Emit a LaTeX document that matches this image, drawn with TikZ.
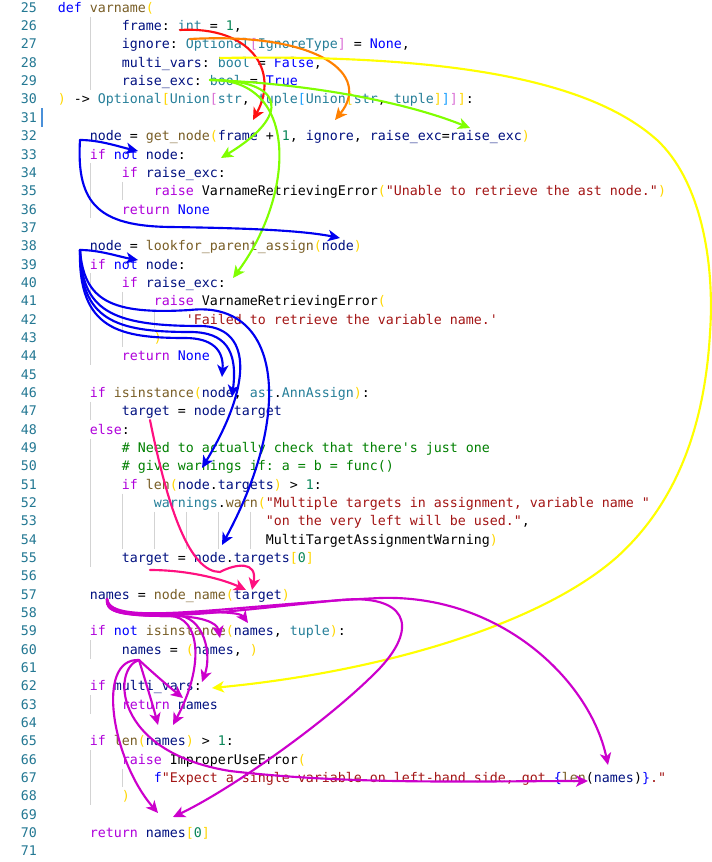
\documentclass[tikz,border=0pt]{standalone}
\usepackage{fontspec}
\setmonofont{DejaVu Sans Mono}
\usetikzlibrary{arrows.meta}
\frenchspacing
\definecolor{ckwc}{HTML}{AF00DB}
\definecolor{cblc}{HTML}{0000FF}
\definecolor{cfnc}{HTML}{795E26}
\definecolor{cvac}{HTML}{001080}
\definecolor{ctyc}{HTML}{267F99}
\definecolor{cnuc}{HTML}{098658}
\definecolor{cstc}{HTML}{A31515}
\definecolor{ccoc}{HTML}{008000}
\definecolor{cbac}{HTML}{FFD700}
\definecolor{cbbc}{HTML}{DA70D6}
\definecolor{cbcc}{HTML}{179FFF}
\definecolor{lnumc}{HTML}{237893}
\definecolor{guidec}{HTML}{D3D3D3}
\definecolor{cursorc}{HTML}{4A90D9}
\definecolor{aRed}{HTML}{FF1010}
\definecolor{aOrange}{HTML}{FF8000}
\definecolor{aYellow}{HTML}{FFFF00}
\definecolor{aGreen}{HTML}{80FF00}
\definecolor{aBlue}{HTML}{0000F0}
\definecolor{aPink}{HTML}{FF1080}
\definecolor{aMag}{HTML}{CC00CC}
\newcommand\ckw[1]{\textcolor{ckwc}{#1}}
\newcommand\cbl[1]{\textcolor{cblc}{#1}}
\newcommand\cfn[1]{\textcolor{cfnc}{#1}}
\newcommand\cva[1]{\textcolor{cvac}{#1}}
\newcommand\cty[1]{\textcolor{ctyc}{#1}}
\newcommand\cnu[1]{\textcolor{cnuc}{#1}}
\newcommand\cst[1]{\textcolor{cstc}{#1}}
\newcommand\cco[1]{\textcolor{ccoc}{#1}}
\newcommand\cba[1]{\textcolor{cbac}{#1}}
\newcommand\cbb[1]{\textcolor{cbbc}{#1}}
\newcommand\cbc[1]{\textcolor{cbcc}{#1}}
\newcommand\codeline[3]{\node[code] (L#1) at ({57.8+8*#2},{12.3+(#1-25)*18.34}) {#3};}
\newcommand\guideline[3]{\draw[guide] ({58.3+8*#1},{12.3+(#2-25)*18.34-13.9}) -- ({58.3+8*#1},{12.3+(#3-25)*18.34+4.4});}
\begin{document}
\begin{tikzpicture}[x=0.75pt,y=-0.75pt,
  code/.style={anchor=base west,inner sep=0pt,outer sep=0pt,font=\ttfamily\fontsize{9.97}{12}\selectfont},
  lnum/.style={anchor=base east,inner sep=0pt,outer sep=0pt,text=lnumc,font=\ttfamily\fontsize{9.97}{12}\selectfont},
  guide/.style={guidec,line width=0.75pt},
  arr/.style={line width=1.6pt,line cap=round,-{Stealth[length=9pt,width=8.5pt,inset=2.5pt]}}]
\fill[white] (0,0) rectangle (712,862);
\useasboundingbox (0,0) rectangle (712,862);
% line numbers
\foreach \n in {25,...,71} \node[lnum] (N\n) at (37,{12.3+(\n-25)*18.34}) {\n};
\fill[cursorc] (40.5,108) rectangle (42.5,127);
% indent guides
\guideline{4}{26}{29}
\guideline{4}{34}{36}
\guideline{8}{35}{35}
\guideline{4}{40}{44}
\guideline{8}{41}{43}
\guideline{12}{42}{42}
\guideline{4}{47}{47}
\guideline{4}{49}{55}
\guideline{8}{52}{54}
\guideline{12}{53}{54}
\guideline{16}{53}{54}
\guideline{20}{53}{54}
\guideline{24}{53}{54}
\guideline{4}{60}{60}
\guideline{4}{63}{63}
\guideline{4}{66}{68}
\guideline{8}{67}{67}
% code
\codeline{25}{0}{\cbl{def} \cfn{varname}\cba{(}}
\codeline{26}{8}{\cva{frame}: \cty{int} = \cnu{1},}
\codeline{27}{8}{\cva{ignore}: \cty{Optional}\cbb{[}\cty{IgnoreType}\cbb{]} = \cbl{None},}
\codeline{28}{8}{\cva{multi\_vars}: \cty{bool} = \cbl{False},}
\codeline{29}{8}{\cva{raise\_exc}: \cty{bool} = \cbl{True}}
\codeline{30}{0}{\cba{)} -> \cty{Optional}\cba{[}\cty{Union}\cbb{[}\cty{str}, \cty{tuple}\cbc{[}\cty{Union}\cba{[}\cty{str}, \cty{tuple}\cba{]}\cbc{]}\cbb{]}\cba{]}:}
\codeline{32}{4}{\cva{node} = \cfn{get\_node}\cba{(}\cva{frame} + \cnu{1}, \cva{ignore}, \cva{raise\_exc}=\cva{raise\_exc}\cba{)}}
\codeline{33}{4}{\ckw{if} \cbl{not} \cva{node}:}
\codeline{34}{8}{\ckw{if} \cva{raise\_exc}:}
\codeline{35}{12}{\ckw{raise} VarnameRetrievingError\cba{(}\cst{"Unable to retrieve the ast node."}\cba{)}}
\codeline{36}{8}{\ckw{return} \cbl{None}}
\codeline{38}{4}{\cva{node} = \cfn{lookfor\_parent\_assign}\cba{(}\cva{node}\cba{)}}
\codeline{39}{4}{\ckw{if} \cbl{not} \cva{node}:}
\codeline{40}{8}{\ckw{if} \cva{raise\_exc}:}
\codeline{41}{12}{\ckw{raise} VarnameRetrievingError\cba{(}}
\codeline{42}{16}{\cst{'Failed to retrieve the variable name.'}}
\codeline{43}{12}{\cba{)}}
\codeline{44}{8}{\ckw{return} \cbl{None}}
\codeline{46}{4}{\ckw{if} \cfn{isinstance}\cba{(}\cva{node}, \cty{ast}.\cty{AnnAssign}\cba{)}:}
\codeline{47}{8}{\cva{target} = \cva{node}.\cva{target}}
\codeline{48}{4}{\ckw{else}:}
\codeline{49}{8}{\cco{\# Need to actually check that there's just one}}
\codeline{50}{8}{\cco{\# give warnings if: a = b = func()}}
\codeline{51}{8}{\ckw{if} \cfn{len}\cba{(}\cva{node}.\cva{targets}\cba{)} > \cnu{1}:}
\codeline{52}{12}{\cty{warnings}.\cfn{warn}\cba{(}\cst{"Multiple targets in assignment, variable name "}}
\codeline{53}{26}{\cst{"on the very left will be used."},}
\codeline{54}{26}{MultiTargetAssignmentWarning\cba{)}}
\codeline{55}{8}{\cva{target} = \cva{node}.\cva{targets}\cba{[}\cnu{0}\cba{]}}
\codeline{57}{4}{\cva{names} = \cfn{node\_name}\cba{(}\cva{target}\cba{)}}
\codeline{59}{4}{\ckw{if} \cbl{not} \cfn{isinstance}\cba{(}\cva{names}, \cty{tuple}\cba{)}:}
\codeline{60}{8}{\cva{names} = \cba{(}\cva{names}, \cba{)}}
\codeline{62}{4}{\ckw{if} \cva{multi\_vars}:}
\codeline{63}{8}{\ckw{return} \cva{names}}
\codeline{65}{4}{\ckw{if} \cfn{len}\cba{(}\cva{names}\cba{)} > \cnu{1}:}
\codeline{66}{8}{\ckw{raise} ImproperUseError\cba{(}}
\codeline{67}{12}{\cbl{f}\cst{"Expect a single variable on left-hand side, got }\cbl{\{}\cfn{len}(\cva{names})\cbl{\}}\cst{."}}
\codeline{68}{8}{\cba{)}}
\codeline{70}{4}{\ckw{return} \cva{names}\cba{[}\cnu{0}\cba{]}}
% arrow anchor coordinates
\coordinate (rs) at (180,30);   \coordinate (re) at (253,120);
\coordinate (os) at (190,39);   \coordinate (oe) at (335,120);
\coordinate (ys) at (220,58);   \coordinate (ye) at (212,688);
\coordinate (y1) at (657,140);  \coordinate (y2) at (710,333); \coordinate (y3) at (617,557);
\coordinate (gs) at (210,80);
\coordinate (g1e) at (470,128); \coordinate (g2e) at (221,158); \coordinate (g3e) at (233,278);
\coordinate (b1s) at (80,140);  \coordinate (b1e) at (138,151);
\coordinate (b2m) at (170,227); \coordinate (b2e) at (340,238);
\coordinate (b3s) at (80,250);  \coordinate (b3e) at (138,260);
\coordinate (bAm) at (185,338); \coordinate (bAe) at (222,377);
\coordinate (bBm) at (190,332); \coordinate (bBe) at (232,397);
\coordinate (bCm) at (200,326); \coordinate (bCe) at (202,468);
\coordinate (bDm) at (190,310); \coordinate (bDe) at (222,545);
\coordinate (p1s) at (150,420); \coordinate (p1m) at (220,572); \coordinate (p1e) at (252,590);
\coordinate (p2s) at (150,570); \coordinate (p2e) at (246,590);
\coordinate (o57) at (107,599); \coordinate (o60) at (139,660);
\coordinate (mam) at (170,616); \coordinate (mae) at (220,638);
\coordinate (mbm) at (170,614); \coordinate (mbe) at (248,623);
\coordinate (mcm) at (170,616); \coordinate (mce) at (173,725);
\coordinate (mdm) at (175,615); \coordinate (mde) at (202,682);
\coordinate (mem1) at (340,600); \coordinate (mem2) at (380,668); \coordinate (mee) at (173,817);
\coordinate (mfm) at (380,598); \coordinate (mfe) at (608,765);
\coordinate (mge) at (158,725);
\coordinate (mhe) at (183,698);
\coordinate (mie) at (158,813);
\coordinate (mjm) at (230,771); \coordinate (mje) at (588,781);
% red, orange
\draw[arr,aRed] (rs) .. controls (250,26) and (280,70) .. (re);
\draw[arr,aOrange] (os) .. controls (320,32) and (372,75) .. (oe);
% yellow
\draw[arr,aYellow] (ys) .. controls (450,54) and (590,80) .. (y1)
  .. controls (700,180) and (715,260) .. (y2)
  .. controls (705,420) and (680,500) .. (y3)
  .. controls (540,625) and (380,672) .. (ye);
% green
\draw[arr,aGreen] (gs) .. controls (300,83) and (400,100) .. (g1e);
\draw[arr,aGreen] (gs) .. controls (285,80) and (292,115) .. (g2e);
\draw[arr,aGreen] (gs) .. controls (300,78) and (295,195) .. (g3e);
% blue
\draw[arr,aBlue] (b1s) .. controls (100,140) and (120,147) .. (b1e);
\draw[arr,aBlue] (b1s) .. controls (76,205) and (100,226) .. (b2m) .. controls (240,228) and (300,230) .. (b2e);
\draw[arr,aBlue] (b3s) .. controls (100,250) and (120,257) .. (b3e);
\draw[arr,aBlue] (b3s) .. controls (78,330) and (120,338) .. (bAm) .. controls (212,338) and (224,350) .. (bAe);
\draw[arr,aBlue] (b3s) .. controls (80,320) and (115,332) .. (bBm) .. controls (225,332) and (238,350) .. (bBe);
\draw[arr,aBlue] (b3s) .. controls (82,310) and (110,326) .. (bCm) .. controls (250,326) and (255,380) .. (bCe);
\draw[arr,aBlue] (b3s) .. controls (84,300) and (110,315) .. (bDm) .. controls (280,300) and (295,410) .. (bDe);
% pink
\draw[arr,aPink] (p1s) .. controls (168,510) and (190,572) .. (p1m) .. controls (235,564) and (258,560) .. (p1e);
\draw[arr,aPink] (p2s) .. controls (190,570) and (225,580) .. (p2e);
% magenta from line 57
\draw[arr,aMag] (o57) .. controls (105,612) and (120,616) .. (mam) .. controls (200,616) and (217,622) .. (mae);
\draw[arr,aMag] (o57) .. controls (105,612) and (120,616) .. (mbm) .. controls (215,611) and (240,612) .. (mbe);
\draw[arr,aMag] (o57) .. controls (105,612) and (125,616) .. (mcm) .. controls (200,617) and (205,665) .. (mce);
\draw[arr,aMag] (o57) .. controls (105,612) and (125,616) .. (mdm) .. controls (205,616) and (212,655) .. (mde);
\draw[arr,aMag] (o57) .. controls (110,628) and (220,612) .. (mem1) .. controls (405,594) and (420,625) .. (mem2) .. controls (330,720) and (230,790) .. (mee);
\draw[arr,aMag] (o57) .. controls (110,628) and (230,605) .. (mfm) .. controls (500,594) and (590,680) .. (mfe);
% magenta from line 60
\draw[arr,aMag] (o60) .. controls (145,680) and (152,702) .. (mge);
\draw[arr,aMag] (o60) .. controls (152,672) and (168,686) .. (mhe);
\draw[arr,aMag] (o60) .. controls (95,658) and (112,760) .. (mie);
\draw[arr,aMag] (o60) .. controls (112,668) and (112,752) .. (mjm) .. controls (350,785) and (480,781) .. (mje);
\end{tikzpicture}
\end{document}
